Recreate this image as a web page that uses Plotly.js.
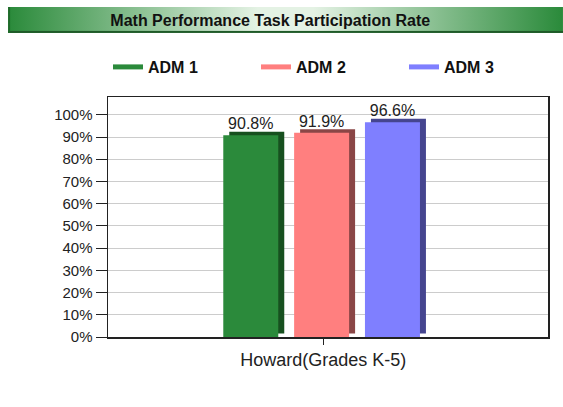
<!DOCTYPE html>
<html>
<head>
<meta charset="utf-8">
<script src="https://cdn.plot.ly/plotly-3.0.1.min.js"></script>
<style>html,body{margin:0;padding:0;background:#fff;}</style>
</head>
<body>
<div id="chart" style="width:563px;height:407px;"></div>
<script>
const categories = ["Howard(Grades K-5)"];
const seriesNames = ["ADM 1", "ADM 2", "ADM 3"];
const adm1 = [90.8];
const adm2 = [91.9];
const adm3 = [96.6];
const yTickVals = [0,10,20,30,40,50,60,70,80,90,100];
const yTickText = ["0%","10%","20%","30%","40%","50%","60%","70%","80%","90%","100%"];

const seriesValues = [adm1, adm2, adm3];
const frontColors = ["#2b8a3b", "#ff7f7f", "#7f7fff"];
const sideColors = ["#17501f", "#8a4646", "#45458f"];
const offsets = [-0.227, -0.066, 0.095];
const barW = 0.125;
const sideShift = 0.0136;

const FONT = "Liberation Sans, Arial, sans-serif";
const traces = [];
// side (3D depth) bars, on a slightly shifted axis
seriesValues.forEach((vals, i) => {
  traces.push({
    type: "bar", x: categories, y: vals, yaxis: "y2",
    offset: offsets[i] + sideShift, width: barW,
    marker: {color: sideColors[i], line: {width: 0}},
    showlegend: false, hoverinfo: "skip"
  });
});
// front bars
seriesValues.forEach((vals, i) => {
  traces.push({
    type: "bar", x: categories, y: vals, yaxis: "y3", name: seriesNames[i],
    offset: offsets[i], width: barW,
    marker: {color: frontColors[i], line: {width: 0}},
    texttemplate: "%{y}%", textposition: "outside", cliponaxis: false,
    textfont: {family: FONT, size: 16, color: "#222"},
    showlegend: false
  });
});
// legend entries as lines
seriesValues.forEach((vals, i) => {
  traces.push({
    type: "scatter", mode: "lines", x: [null], y: [null], name: seriesNames[i],
    line: {color: frontColors[i], width: 5}, showlegend: true
  });
});

const gradSvg = '<svg xmlns="http://www.w3.org/2000/svg" width="555" height="26" preserveAspectRatio="none">' +
  '<defs><linearGradient id="g" x1="0" x2="1" y1="0" y2="0">' +
  '<stop offset="0" stop-color="#2a8a3a"/><stop offset="0.45" stop-color="#e4f2e4"/>' +
  '<stop offset="0.55" stop-color="#e4f2e4"/><stop offset="1" stop-color="#2a8a3a"/></linearGradient></defs>' +
  '<rect width="555" height="26" fill="url(#g)"/>' +
  '<rect x="0" y="24" width="555" height="2" fill="#1f5a28"/>' +
  '<rect x="0" y="0" width="2" height="26" fill="#1f6a2a"/></svg>';
const gradUri = "data:image/svg+xml;charset=utf-8," + encodeURIComponent(gradSvg);

const layout = {
  width: 563, height: 407,
  margin: {l: 108, r: 15, t: 97, b: 70},
  paper_bgcolor: "#fff", plot_bgcolor: "#fff",
  font: {family: FONT, size: 13, color: "#222"},
  title: {text: "<b>Math Performance Task Participation Rate</b>",
          font: {family: FONT, size: 16, color: "#111"},
          x: 0.48, xanchor: "center", y: 0.95, yanchor: "middle"},
  barmode: "overlay",
  showlegend: true,
  legend: {orientation: "h", x: 0.0, xanchor: "left", y: 1.125, yanchor: "middle",
           entrywidth: 103, entrywidthmode: "pixels",
           font: {family: FONT, size: 16, color: "#111", weight: "bold"}},
  xaxis: {type: "category", range: [-0.489, 0.511], showgrid: false,
          showline: true, linecolor: "#222", linewidth: 1.5, mirror: true,
          ticks: "outside", ticklen: 6, tickcolor: "#222",
          tickfont: {family: FONT, size: 18, color: "#222"}, fixedrange: true},
  yaxis: {range: [0, 108], tickvals: yTickVals, ticktext: yTickText,
          showgrid: true, gridcolor: "#cccccc", gridwidth: 1,
          showline: true, linecolor: "#222", linewidth: 1.5, mirror: true,
          ticks: "outside", ticklen: 11, tickcolor: "#222", zeroline: false,
          tickfont: {family: FONT, size: 15, color: "#222"}},
  yaxis2: {range: [-1.6, 106.4], overlaying: "y", visible: false, showgrid: false, zeroline: false},
  yaxis3: {range: [0, 108], overlaying: "y", visible: false, showgrid: false, zeroline: false},
  images: [{source: gradUri, xref: "paper", yref: "paper",
            x: -0.227, y: 1.375, sizex: 1.261, sizey: 0.108,
            xanchor: "left", yanchor: "top", sizing: "stretch", layer: "below"}]
};

Plotly.newPlot("chart", traces, layout, {displayModeBar: false, staticPlot: true});
</script>
</body>
</html>
